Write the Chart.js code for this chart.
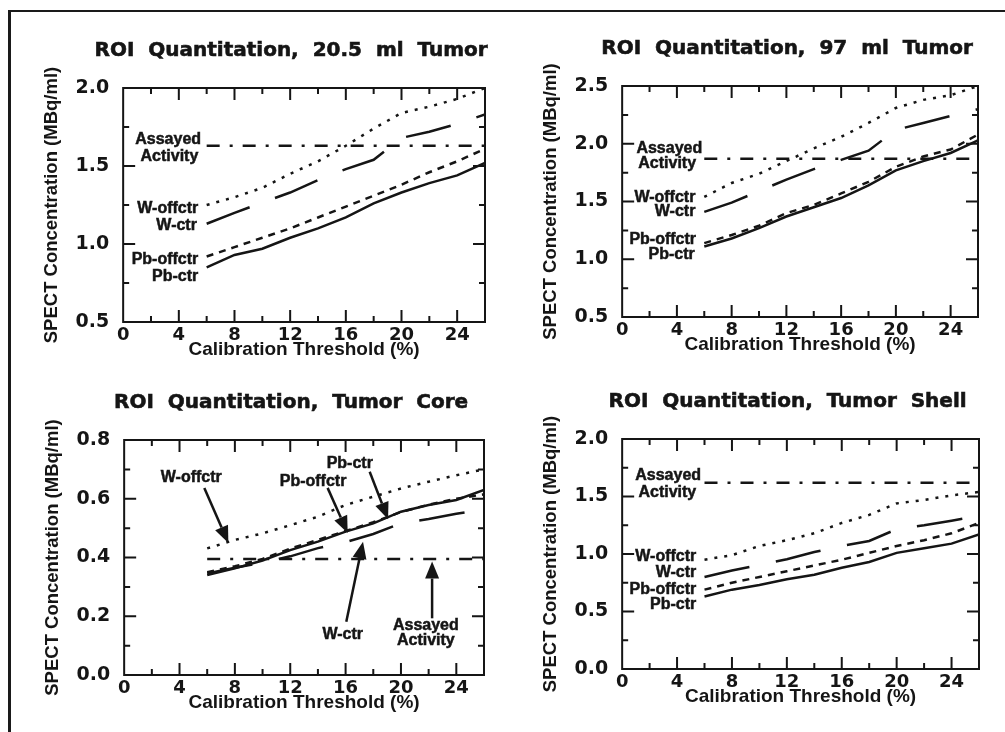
<!DOCTYPE html>
<html>
<head>
<meta charset="utf-8">
<script src="https://cdn.jsdelivr.net/npm/chart.js@4.4.1/dist/chart.umd.min.js"></script>
<style>
  html, body { margin: 0; padding: 0; background: #fff; overflow: hidden; }
  body { width: 1005px; height: 732px; position: relative; }
  .frame { position: absolute; left: 8px; top: 10px; width: 1100px; height: 800px; border-top: 2.5px solid #1a1a1a; border-left: 3px solid #1a1a1a; }
  .panel { position: absolute; }
</style>
</head>
<body>
<div class="frame"></div>
<div class="panel" style="left:0px;top:20px;width:500px;height:345px"><canvas id="c20"></canvas></div>
<div class="panel" style="left:499px;top:18px;width:494px;height:342px"><canvas id="c97"></canvas></div>
<div class="panel" style="left:1px;top:372px;width:498px;height:346px"><canvas id="cCore"></canvas></div>
<div class="panel" style="left:499px;top:371px;width:495px;height:341px"><canvas id="cShell"></canvas></div>
<script>
// calibration thresholds (%) where each curve was sampled
const thresholds = [6, 8, 10, 12, 14, 16, 18, 20, 22, 24, 26];

// 20.5 ml tumor
const pbCtr20  = [0.85, 0.93, 0.97, 1.04, 1.10, 1.17, 1.26, 1.33, 1.39, 1.44, 1.52];
const pbOff20  = [0.92, 0.98, 1.04, 1.10, 1.17, 1.24, 1.31, 1.38, 1.46, 1.53, 1.61];
const wCtr20   = [1.13, 1.20, 1.265, 1.33, 1.41, 1.48, 1.54, 1.68, 1.72, 1.77, 1.83];
const wOff20   = [1.25, 1.30, 1.36, 1.45, 1.53, 1.63, 1.74, 1.84, 1.88, 1.93, 2.00];
const assayed20 = 1.63;

// 97 ml tumor
const pbCtr97  = [1.11, 1.18, 1.27, 1.37, 1.45, 1.53, 1.64, 1.77, 1.85, 1.92, 2.03];
const pbOff97  = [1.14, 1.21, 1.29, 1.40, 1.47, 1.57, 1.67, 1.80, 1.89, 1.95, 2.08];
const wCtr97   = [1.41, 1.49, 1.59, 1.69, 1.78, 1.86, 1.94, 2.12, 2.18, 2.24, 2.30];
const wOff97   = [1.54, 1.66, 1.74, 1.85, 1.96, 2.06, 2.18, 2.31, 2.38, 2.42, 2.50];
const assayed97 = 1.87;

// tumor core
const pbCtrCore = [0.34, 0.363, 0.39, 0.425, 0.454, 0.488, 0.516, 0.556, 0.579, 0.596, 0.63];
const pbOffCore = [0.35, 0.37, 0.395, 0.43, 0.46, 0.49, 0.52, 0.555, 0.58, 0.60, 0.615];
const wCtrCore  = [0.346, 0.365, 0.383, 0.404, 0.432, 0.452, 0.48, 0.516, 0.531, 0.549, 0.564];
const wOffCore  = [0.431, 0.46, 0.482, 0.51, 0.539, 0.579, 0.607, 0.635, 0.658, 0.68, 0.70];
const assayedCore = 0.395;

// tumor shell
const pbCtrShell = [0.63, 0.69, 0.73, 0.78, 0.82, 0.88, 0.93, 1.01, 1.05, 1.09, 1.17];
const pbOffShell = [0.69, 0.75, 0.80, 0.85, 0.90, 0.95, 1.01, 1.07, 1.12, 1.18, 1.27];
const wCtrShell  = [0.80, 0.856, 0.905, 0.955, 1.017, 1.07, 1.113, 1.216, 1.25, 1.29, 1.33];
const wOffShell  = [0.95, 0.99, 1.07, 1.12, 1.18, 1.27, 1.34, 1.44, 1.47, 1.51, 1.54];
const assayedShell = 1.62;

const ink = '#151515';

const line = (label, values, dash) => ({
  label, borderColor: ink, borderWidth: 2.5, borderDash: dash, pointRadius: 0, tension: 0, fill: false,
  data: thresholds.map((t, i) => ({ x: t, y: values[i] }))
});
const flat = (label, v) => ({
  label, borderColor: ink, borderWidth: 2.5, borderDash: [13, 10, 3, 10], pointRadius: 0, tension: 0, fill: false,
  data: [{ x: thresholds[0], y: v }, { x: thresholds[thresholds.length - 1], y: v }]
});

// labels and arrows drawn in data units on top of each panel
const sideLabels = (a, b, c, d, e, f) => [
  { text: 'Assayed', x: a[0], y: a[1] }, { text: 'Activity', x: b[0], y: b[1] },
  { text: 'W-offctr', x: c[0], y: c[1] }, { text: 'W-ctr', x: d[0], y: d[1] },
  { text: 'Pb-offctr', x: e[0], y: e[1] }, { text: 'Pb-ctr', x: f[0], y: f[1] }
];

const panelPlugin = p => ({
  id: 'panel',
  afterDraw(chart) {
    const { ctx, chartArea: a, scales: { x, y } } = chart;
    ctx.save();
    ctx.strokeStyle = ink; ctx.fillStyle = ink; ctx.lineWidth = 2;
    ctx.strokeRect(a.left, a.top, a.right - a.left, a.bottom - a.top);
    // inward tick marks on all four sides
    ctx.beginPath();
    x.ticks.forEach(t => {
      if (t.value <= x.min || t.value >= x.max) return;
      const len = t.value % 4 === 0 ? 12 : 6, px = x.getPixelForValue(t.value);
      ctx.moveTo(px, a.bottom); ctx.lineTo(px, a.bottom - len);
      ctx.moveTo(px, a.top); ctx.lineTo(px, a.top + len);
    });
    const yv = y.ticks.map(t => t.value);
    const marks = [];
    yv.forEach((v, i) => { marks.push([v, 12]); if (i < yv.length - 1) marks.push([(v + yv[i + 1]) / 2, 6]); });
    marks.forEach(([v, len]) => {
      if (v <= y.min + 1e-9 || v >= y.max - 1e-9) return;
      const py = y.getPixelForValue(v);
      ctx.moveTo(a.left, py); ctx.lineTo(a.left + len, py);
      ctx.moveTo(a.right, py); ctx.lineTo(a.right - len, py);
    });
    ctx.stroke();
    // panel title
    ctx.font = 'bold 20px "DejaVu Sans"';
    ctx.textAlign = 'center'; ctx.textBaseline = 'middle';
    ctx.lineWidth = 0.6;
    const tx = (a.left + a.right) / 2 - 13, ty = a.top - 37;
    ctx.fillText(p.title, tx, ty); ctx.strokeText(p.title, tx, ty);
    // curve labels
    ctx.font = 'bold 16px "Liberation Sans"';
    ctx.lineWidth = 0.5;
    p.notes.forEach(n => {
      ctx.textAlign = n.align || 'right';
      const nx = x.getPixelForValue(n.x), ny = y.getPixelForValue(n.y);
      ctx.fillText(n.text, nx, ny); ctx.strokeText(n.text, nx, ny);
    });
    (p.arrows || []).forEach(([from, to]) => {
      const x1 = x.getPixelForValue(from[0]), y1 = y.getPixelForValue(from[1]);
      const x2 = x.getPixelForValue(to[0]), y2 = y.getPixelForValue(to[1]);
      const ang = Math.atan2(y2 - y1, x2 - x1), L = 17, W = 7;
      const bx = x2 - L * Math.cos(ang), by = y2 - L * Math.sin(ang);
      ctx.lineWidth = 2.5;
      ctx.beginPath(); ctx.moveTo(x1, y1); ctx.lineTo(bx, by); ctx.stroke();
      ctx.beginPath(); ctx.moveTo(x2, y2);
      ctx.lineTo(bx + W * Math.sin(ang), by - W * Math.cos(ang));
      ctx.lineTo(bx - W * Math.sin(ang), by + W * Math.cos(ang));
      ctx.closePath(); ctx.fill();
    });
    ctx.restore();
  }
});

const mk = (id, p) => new Chart(document.getElementById(id), {
  type: 'line',
  data: {
    datasets: [
      line('Pb-ctr', p.pbCtr, []),
      line('Pb-offctr', p.pbOff, [7, 6]),
      line('W-ctr', p.wCtr, [46, 27]),
      line('W-offctr', p.wOff, [3, 7]),
      flat('Assayed Activity', p.assayed)
    ]
  },
  options: {
    responsive: true, maintainAspectRatio: false, animation: false,
    layout: { padding: { left: 43, top: 68, right: 15, bottom: 5.5 } },
    plugins: { legend: { display: false }, tooltip: { enabled: false } },
    scales: {
      x: {
        type: 'linear', min: 0, max: 26,
        grid: { display: false, drawTicks: false }, border: { display: false },
        ticks: { stepSize: 2, autoSkip: false, maxRotation: 0, padding: 4, color: ink,
          font: { family: 'DejaVu Sans', weight: 'bold', size: 18, lineHeight: 1 },
          callback: v => v % 4 === 0 ? String(v) : '' },
        title: { display: true, text: 'Calibration Threshold (%)', color: ink,
          font: { family: 'Liberation Sans', weight: 'bold', size: 19, lineHeight: 1 },
          padding: { top: -7.5, bottom: 0 } }
      },
      y: {
        type: 'linear', min: p.yMin, max: p.yMax,
        grid: { display: false, drawTicks: false }, border: { display: false },
        ticks: { stepSize: p.yStep, padding: 14, color: ink,
          font: { family: 'DejaVu Sans', weight: 'bold', size: 19, lineHeight: 1 },
          callback: v => v.toFixed(1) },
        title: { display: true, text: 'SPECT Concentration (MBq/ml)', color: ink,
          font: { family: 'Liberation Sans', weight: 'bold', size: 18.5, lineHeight: 1 },
          padding: { top: 0, bottom: 0 } }
      }
    }
  },
  plugins: [panelPlugin(p)]
});

mk('c20', {
  title: 'ROI  Quantitation,  20.5  ml  Tumor', yMin: 0.5, yMax: 2.0, yStep: 0.5,
  pbCtr: pbCtr20, pbOff: pbOff20, wCtr: wCtr20, wOff: wOff20, assayed: assayed20,
  notes: sideLabels([5.6, 1.67], [5.4, 1.56], [5.4, 1.23], [5.3, 1.12], [5.4, 0.90], [5.4, 0.79])
});
mk('c97', {
  title: 'ROI  Quantitation,  97  ml  Tumor', yMin: 0.5, yMax: 2.5, yStep: 0.5,
  pbCtr: pbCtr97, pbOff: pbOff97, wCtr: wCtr97, wOff: wOff97, assayed: assayed97,
  notes: sideLabels([5.85, 1.955], [5.4, 1.825], [5.35, 1.535], [5.35, 1.41], [5.4, 1.17], [5.3, 1.04])
});
mk('cCore', {
  title: 'ROI  Quantitation,  Tumor  Core', yMin: 0, yMax: 0.8, yStep: 0.2,
  pbCtr: pbCtrCore, pbOff: pbOffCore, wCtr: wCtrCore, wOff: wOffCore, assayed: assayedCore,
  notes: [
    { text: 'W-offctr', x: 4.85, y: 0.671, align: 'center' },
    { text: 'Pb-offctr', x: 13.65, y: 0.658, align: 'center' },
    { text: 'Pb-ctr', x: 16.3, y: 0.72, align: 'center' },
    { text: 'W-ctr', x: 15.79, y: 0.137, align: 'center' },
    { text: 'Assayed', x: 21.8, y: 0.169, align: 'center' },
    { text: 'Activity', x: 21.8, y: 0.116, align: 'center' }
  ],
  arrows: [
    [[5.79, 0.637], [7.53, 0.449]],
    [[14.7, 0.637], [16.15, 0.483]],
    [[17.74, 0.692], [19.07, 0.53]],
    [[16.05, 0.181], [17.26, 0.454]],
    [[22.25, 0.193], [22.25, 0.386]]
  ]
});
mk('cShell', {
  title: 'ROI  Quantitation,  Tumor  Shell', yMin: 0, yMax: 2.0, yStep: 0.5,
  pbCtr: pbCtrShell, pbOff: pbOffShell, wCtr: wCtrShell, wOff: wOffShell, assayed: assayedShell,
  notes: sideLabels([5.75, 1.68], [5.4, 1.535], [5.4, 0.98], [5.4, 0.835], [5.4, 0.69], [5.4, 0.56])
});
</script>
</body>
</html>
